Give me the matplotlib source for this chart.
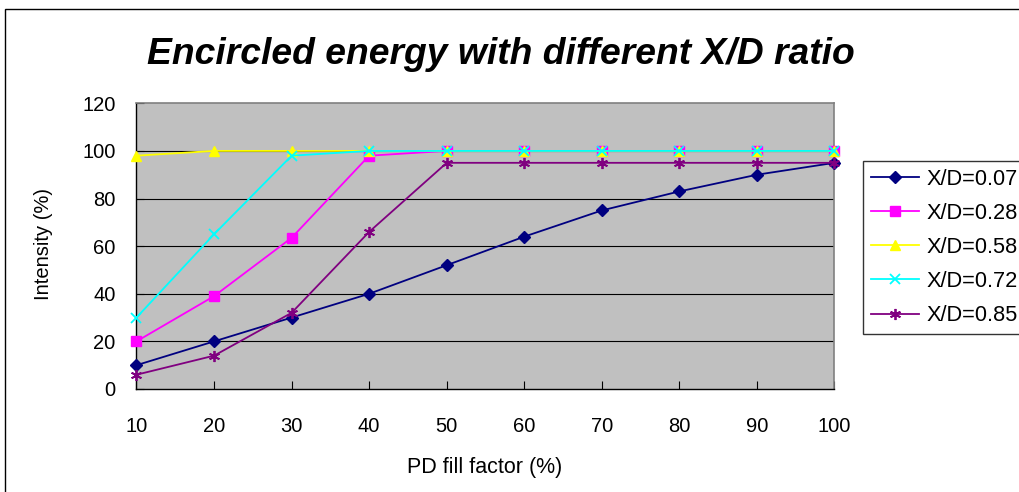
import matplotlib
matplotlib.use("Agg")
import matplotlib.pyplot as plt
from matplotlib.patches import Rectangle
import numpy as np

plt.rcParams['font.family'] = ['Liberation Sans', 'DejaVu Sans']

fill_factor = ["10", "20", "30", "40", "50", "60", "70", "80", "90", "100"]
xd_007 = [10, 20, 30, 40, 52, 64, 75, 83, 90, 95]
xd_028 = [20, 39, 63.5, 98, 100, 100, 100, 100, 100, 100]
xd_058 = [98, 100, 100, 100, 100, 100, 100, 100, 100, 100]
xd_072 = [30, 65, 98, 100, 100, 100, 100, 100, 100, 100]
xd_085 = [6, 14, 32, 66, 95, 95, 95, 95, 95, 95]
series_labels = ["X/D=0.07", "X/D=0.28", "X/D=0.58", "X/D=0.72", "X/D=0.85"]
y_ticks = [0, 20, 40, 60, 80, 100, 120]

W, H = 1020, 492
fig = plt.figure(figsize=(W / 100, H / 100), dpi=100)

# chart border (runs past the right and bottom edges)
fig.patches.append(Rectangle((5 / W, -0.1), 1.1, (H - 9) / H + 0.1,
                             transform=fig.transFigure, fill=False,
                             edgecolor='black', linewidth=1.0))

left, right, top, bottom = 136.5, 834.5, 103.3, 389
ax = fig.add_axes([left / W, (H - bottom) / H, (right - left) / W, (bottom - top) / H])
ax.set_facecolor('#C0C0C0')

x = np.arange(len(fill_factor))
styles = [
    (xd_007, '#000080', dict(marker='D', markersize=6.5)),
    (xd_028, '#FF00FF', dict(marker='s', markersize=6.5)),
    (xd_058, '#FFFF00', dict(marker='^', markersize=7.5)),
    (xd_072, '#00FFFF', dict(marker='x', markersize=7.5, markeredgewidth=1.3)),
    (xd_085, '#800080', dict(marker=(6, 2, 0), markersize=8, markeredgewidth=1.3)),
]
for (vals, color, mk), lab in zip(styles, series_labels):
    ax.plot(x, vals, color=color, linewidth=1.3, label=lab, clip_on=False,
            markerfacecolor=color, markeredgecolor=color, zorder=3, **mk)

ax.set_xlim(0, len(fill_factor) - 1)
ax.set_ylim(0, 120)
ax.set_xticks(x)
ax.set_xticklabels(fill_factor)
ax.set_yticks(y_ticks)

for yv in y_ticks[1:-1]:
    ax.axhline(yv, color='black', linewidth=0.8, zorder=1)

for side in ['top', 'right']:
    ax.spines[side].set_color('#808080')
    ax.spines[side].set_linewidth(1.2)
for side in ['left', 'bottom']:
    ax.spines[side].set_color('black')
    ax.spines[side].set_linewidth(1.0)

ax.tick_params(axis='x', direction='in', length=6, width=0.8, pad=20, labelsize=14.5)
ax.tick_params(axis='y', direction='in', length=6, width=0.8, pad=15, labelsize=14.5)

fig.text(501 / W, 1 - 54 / H, "Encircled energy with different X/D ratio",
         ha='center', va='center', fontsize=26.8, fontweight='bold', style='italic')
fig.text(485 / W, 1 - 467 / H, "PD fill factor (%)", ha='center', va='center',
         fontsize=15.5)
fig.text(44 / W, 1 - 244 / H, "Intensity (%)", ha='center', va='center',
         rotation=90, fontsize=14.5)

leg = ax.legend(loc='upper left', bbox_to_anchor=(863 / W, 1 - 161 / H),
                bbox_transform=fig.transFigure, frameon=True, fancybox=False,
                fontsize=15.7, handlelength=2.2, handletextpad=0.36,
                labelspacing=0.6, borderpad=0.36, borderaxespad=0)
leg.get_frame().set_edgecolor('black')
leg.get_frame().set_linewidth(1.0)

fig.savefig("out.png", dpi=100)
